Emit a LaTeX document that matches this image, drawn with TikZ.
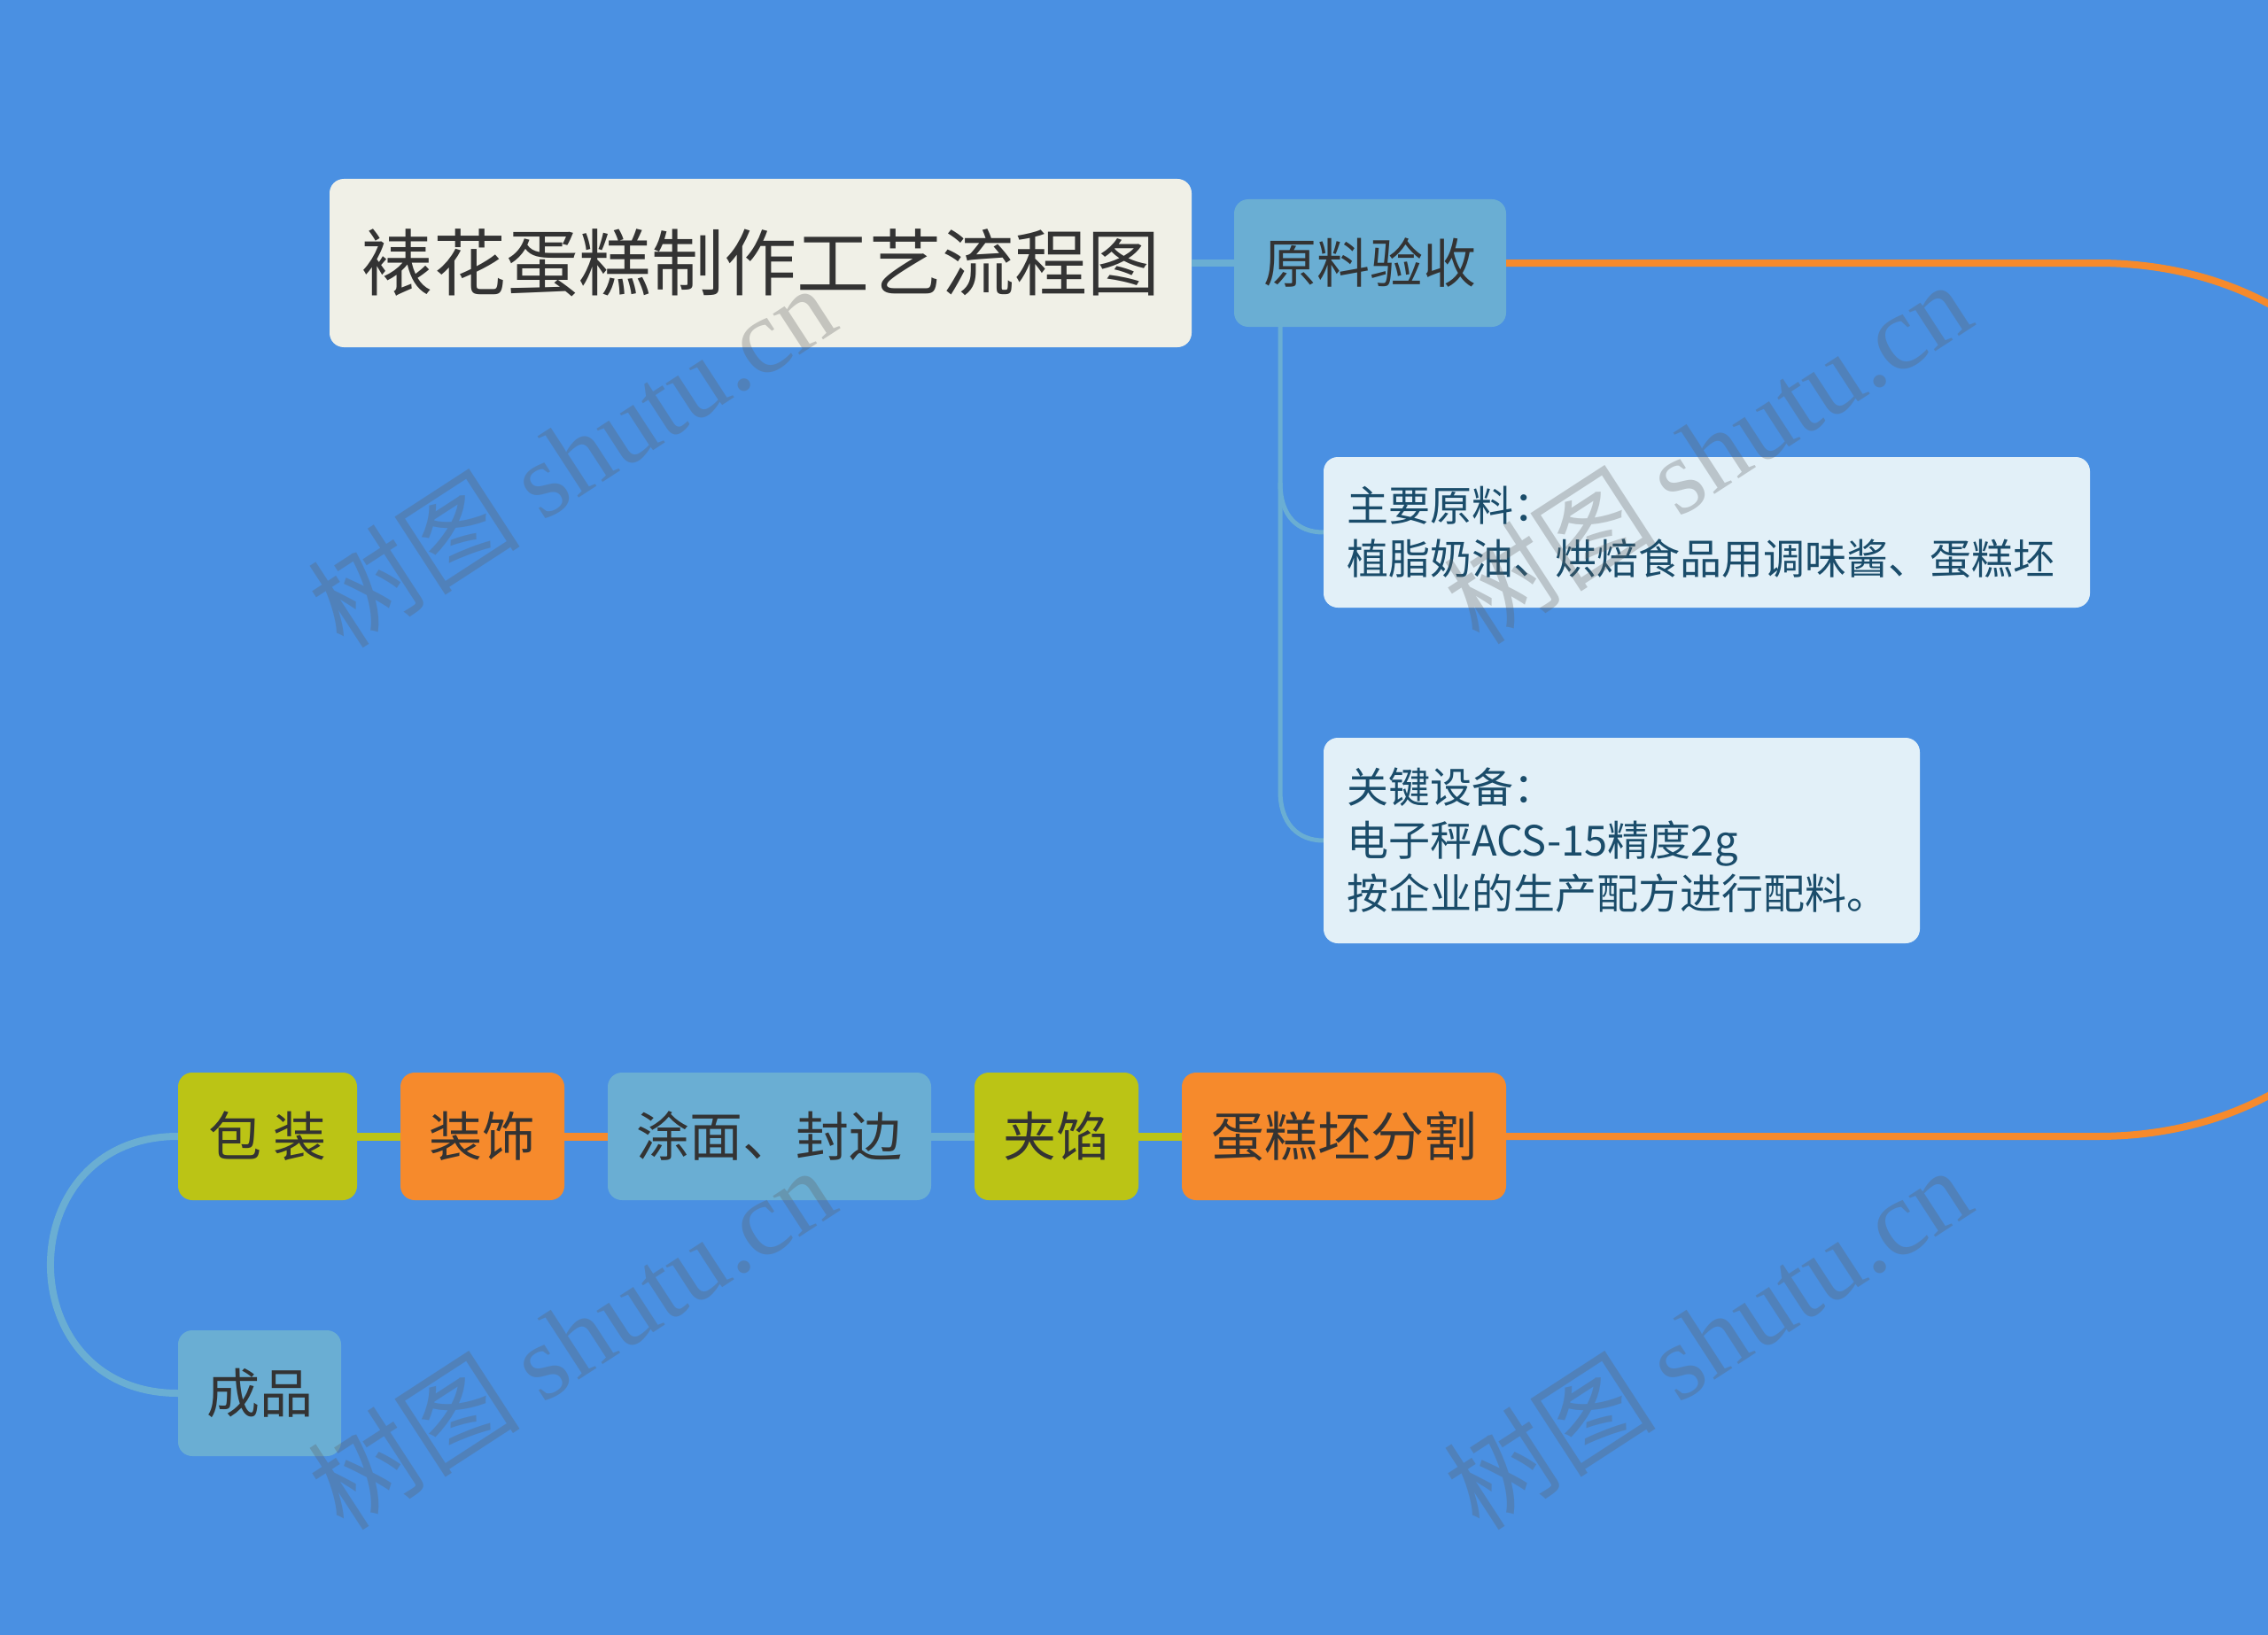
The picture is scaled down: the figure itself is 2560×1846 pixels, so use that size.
\documentclass[tikz,border=0pt]{standalone}
\usepackage{fontspec}
\setmainfont{Noto Sans CJK SC}
\newfontfamily\wmserif{Liberation Serif}
\newfontfamily\wmcjk{Noto Sans CJK SC}
\definecolor{bgblue}{HTML}{4A90E2}
\definecolor{titlefill}{HTML}{F0F0E7}
\definecolor{nblue}{HTML}{6AAED3}
\definecolor{norange}{HTML}{F68A2C}
\definecolor{nyellow}{HTML}{BBC415}
\definecolor{lightfill}{HTML}{E2F0F8}
\definecolor{lighttext}{HTML}{1A4C6A}
\definecolor{darktext}{HTML}{333333}
\definecolor{wmgray}{HTML}{606060}
\tikzset{
  boxbase/.style={rounded corners=16pt, inner sep=0pt, text=darktext, align=center},
  titlebox/.style={boxbase, fill=titlefill, minimum width=973pt, minimum height=190pt, font=\fontsize{82}{96}\selectfont},
  stepbox/.style={boxbase, minimum height=144pt, font=\fontsize{60}{72}\selectfont},
  bluebox/.style={stepbox, fill=nblue},
  orangebox/.style={stepbox, fill=norange},
  yellowbox/.style={stepbox, fill=nyellow},
  notebox/.style={rounded corners=16pt, fill=lightfill, text=lighttext, inner xsep=26pt, inner ysep=0pt, align=left, font=\fontsize{47}{60}\selectfont},
  conn/.style={line width=8pt},
  branch/.style={line width=5pt, draw=nblue},
  wm/.style={text=wmgray, opacity=0.3, rotate=33, font=\fontsize{120}{130}\selectfont}
}
\begin{document}
\begin{tikzpicture}[x=1pt,y=-1pt]
\useasboundingbox (0,0) rectangle (2560,1846);
\fill[bgblue] (0,0) rectangle (2560,1846);

% nodes
\node[titlebox] (title) at (858.5,297) {裱花蛋糕制作工艺流程图};
\node[bluebox, minimum width=307pt] (yl) at (1546.5,297) {原料验收};
\node[notebox, text width=813pt, minimum height=170pt] (n1) at (1926.5,601) {主要原料：\\植脂奶油、烘焙食品用调味酱、蛋糕坯};
\node[notebox, text width=621pt, minimum height=232pt] (n2) at (1830.5,949) {关键设备：\\电子秤ACS-15精度2g\\按企业的生产配方进行配料。};

\node[yellowbox, minimum width=202pt] (bz) at (302,1283) {包 装};
\node[orangebox, minimum width=185pt] (zs) at (544.5,1283) {装饰};
\node[bluebox, minimum width=365pt] (tm) at (868.5,1283) {涂面、封边};
\node[yellowbox, minimum width=185pt] (jx) at (1192.5,1283) {夹馅};
\node[orangebox, minimum width=366pt] (dg) at (1517,1283) {蛋糕坯分割};
\node[bluebox, minimum width=184pt, minimum height=142pt] (cp) at (293,1573) {成品};

\coordinate (br0) at (1445,369);
\coordinate (br1) at (1445,545);
\coordinate (br2) at (1445,893);
\coordinate (tr) at (2367,297);
\coordinate (rr) at (2367,1283);

% connectors
\draw[conn, draw=nblue] (title.east) -- (yl.west);
\begin{scope}
\clip (0,0) rectangle (2560,1846);
\draw[conn, draw=norange] (yl.east) -- (tr) .. controls (2936,297) and (2936,1283) .. (rr) -- (dg.east);
\end{scope}
\draw[branch] (br0) -- (br2) .. controls (1445,930) and (1465,949) .. (n2.west);
\draw[branch] (br1) .. controls (1445,583) and (1465,601) .. (n1.west);

\draw[conn, line width=9pt, draw=nyellow] (dg.west) -- (jx.east);
\draw[conn, line width=9pt, draw=nblue] (jx.west) -- (tm.east);
\draw[conn, line width=9pt, draw=norange] (tm.west) -- (zs.east);
\draw[conn, line width=9pt, draw=nyellow] (zs.west) -- (bz.east);
\draw[conn, draw=nblue] (bz.west) .. controls (9,1283) and (9,1573) .. (cp.west);

% watermarks
\node[wm] (w1) at (645,514) {{\wmcjk 树图} {\wmserif shutu.cn}};
\node[wm] (w2) at (1927,510) {{\wmcjk 树图} {\wmserif shutu.cn}};
\node[wm] (w3) at (645,1510) {{\wmcjk 树图} {\wmserif shutu.cn}};
\node[wm] (w4) at (1927,1510) {{\wmcjk 树图} {\wmserif shutu.cn}};
\end{tikzpicture}
\end{document}
